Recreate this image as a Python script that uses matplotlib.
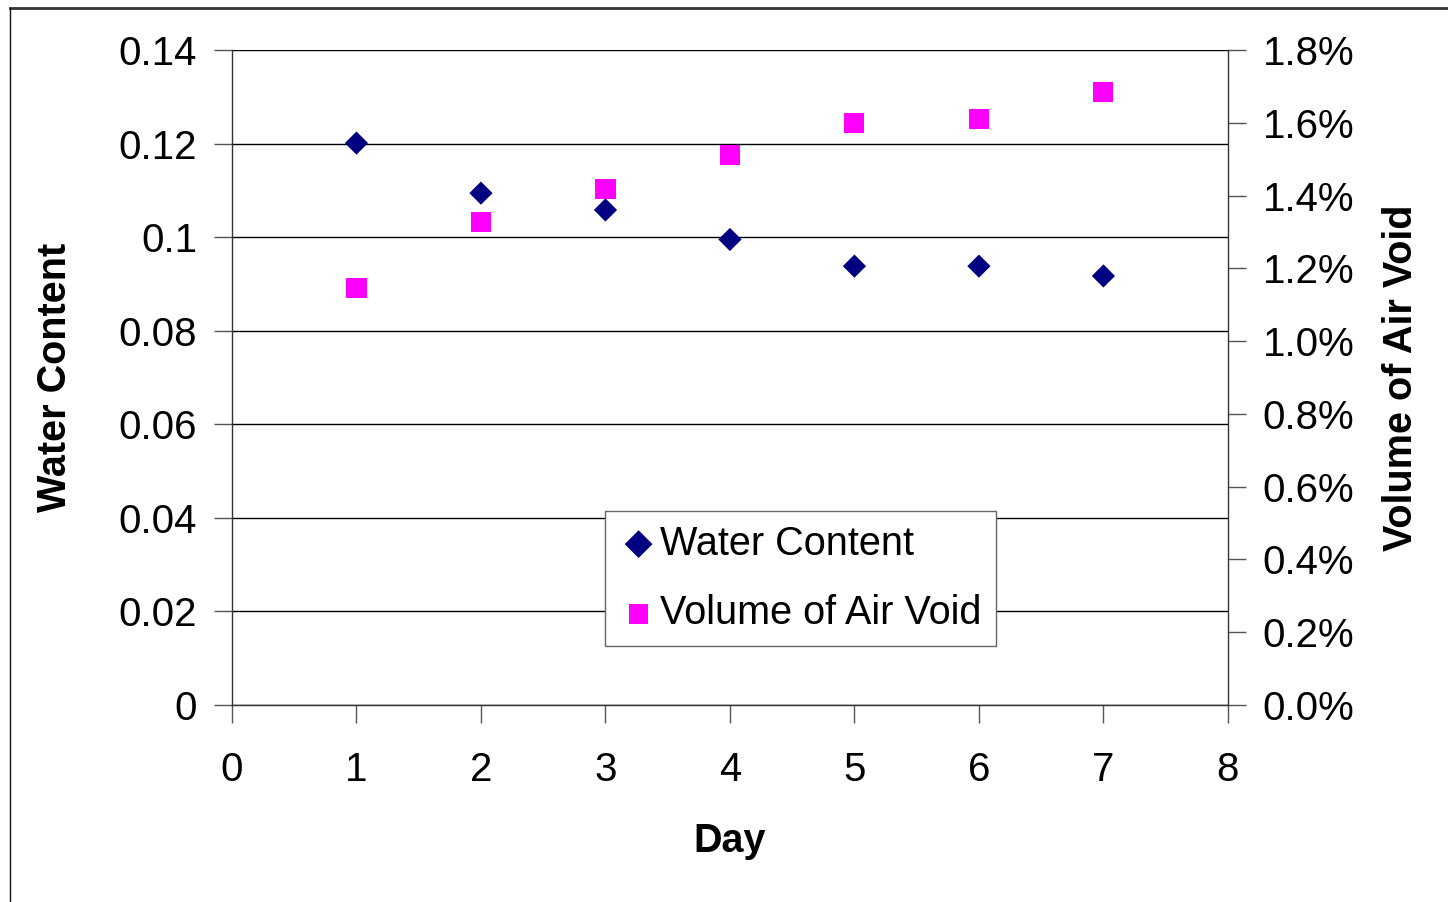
import matplotlib
matplotlib.use('Agg')
import matplotlib.pyplot as plt
from matplotlib.ticker import FuncFormatter, MultipleLocator
from matplotlib.lines import Line2D

plt.rcParams['font.family'] = ['Liberation Sans', 'DejaVu Sans']

# data
days = [1, 2, 3, 4, 5, 6, 7]
water_content = [0.1201, 0.1094, 0.1058, 0.0995, 0.0938, 0.0938, 0.0917]
air_void = [0.01146, 0.01327, 0.01418, 0.01511, 0.01599, 0.01610, 0.01685]

fig = plt.figure(figsize=(14.48, 9.02), dpi=100)
ax = fig.add_axes([0.1602, 0.2184, 0.6878, 0.7262])
ax2 = ax.twinx()

# left axis: water content
ax.scatter(days, water_content, marker='D', s=140, color='#000080',
           edgecolors='none', zorder=3, label='Water Content')
ax.set_xlim(0, 8)
ax.set_ylim(0, 0.14)
ax.xaxis.set_major_locator(MultipleLocator(1))
ax.yaxis.set_major_locator(MultipleLocator(0.02))
ax.yaxis.set_major_formatter(FuncFormatter(lambda v, p: '0' if v == 0 else ('%.2f' % v).rstrip('0')))
ax.grid(axis='y', color='black', linewidth=1.0)
ax.set_axisbelow(True)

# right axis: air void
ax2.scatter(days, air_void, marker='s', s=210, color='#FF00FF',
            edgecolors='none', zorder=3, label='Volume of Air Void')
ax2.set_ylim(0, 0.018)
ax2.yaxis.set_major_locator(MultipleLocator(0.002))
ax2.yaxis.set_major_formatter(FuncFormatter(lambda v, p: '%.1f%%' % (v * 100)))

for a in (ax, ax2):
    a.spines['top'].set_visible(False)
    for s in a.spines.values():
        s.set_linewidth(1.0)
        s.set_color('#333333')
    a.tick_params(direction='out', length=13, width=1.0, color='#555555',
                  labelsize=29)
ax.spines['right'].set_visible(False)
ax2.spines['left'].set_visible(False)
ax2.spines['bottom'].set_visible(False)
ax.tick_params(axis='y', pad=12)
ax.tick_params(axis='x', pad=20)
ax2.tick_params(axis='y', pad=12)

ax.set_xlabel('Day', fontsize=28.5, fontweight='bold', labelpad=24)
ax.set_ylabel('Water Content', fontsize=28.5, fontweight='bold', labelpad=32)
ax2.set_ylabel('Volume of Air Void', fontsize=28.5, fontweight='bold', labelpad=20)

# legend
h1, l1 = ax.get_legend_handles_labels()
h2, l2 = ax2.get_legend_handles_labels()
leg = ax2.legend(h1 + h2, l1 + l2, loc='lower left',
                 bbox_to_anchor=(0.3745, 0.090, 0.3925, 0.2016), mode='expand',
                 fontsize=28.5, frameon=True, fancybox=False, framealpha=1,
                 edgecolor='#666666', handletextpad=0.05, handlelength=1.0,
                 borderpad=0.35, labelspacing=0.8, borderaxespad=0)
leg.get_frame().set_linewidth(1.0)
for h in leg.legend_handles:
    h.set_sizes([200])

# outer frame lines (top and left)
fig.add_artist(Line2D([0.0069, 1.0], [0.9911, 0.9911], transform=fig.transFigure,
                      color='#333333', linewidth=2))
fig.add_artist(Line2D([0.0069, 0.0069], [0.0, 0.9911], transform=fig.transFigure,
                      color='#111111', linewidth=1))

fig.savefig('out.png', dpi=100)
